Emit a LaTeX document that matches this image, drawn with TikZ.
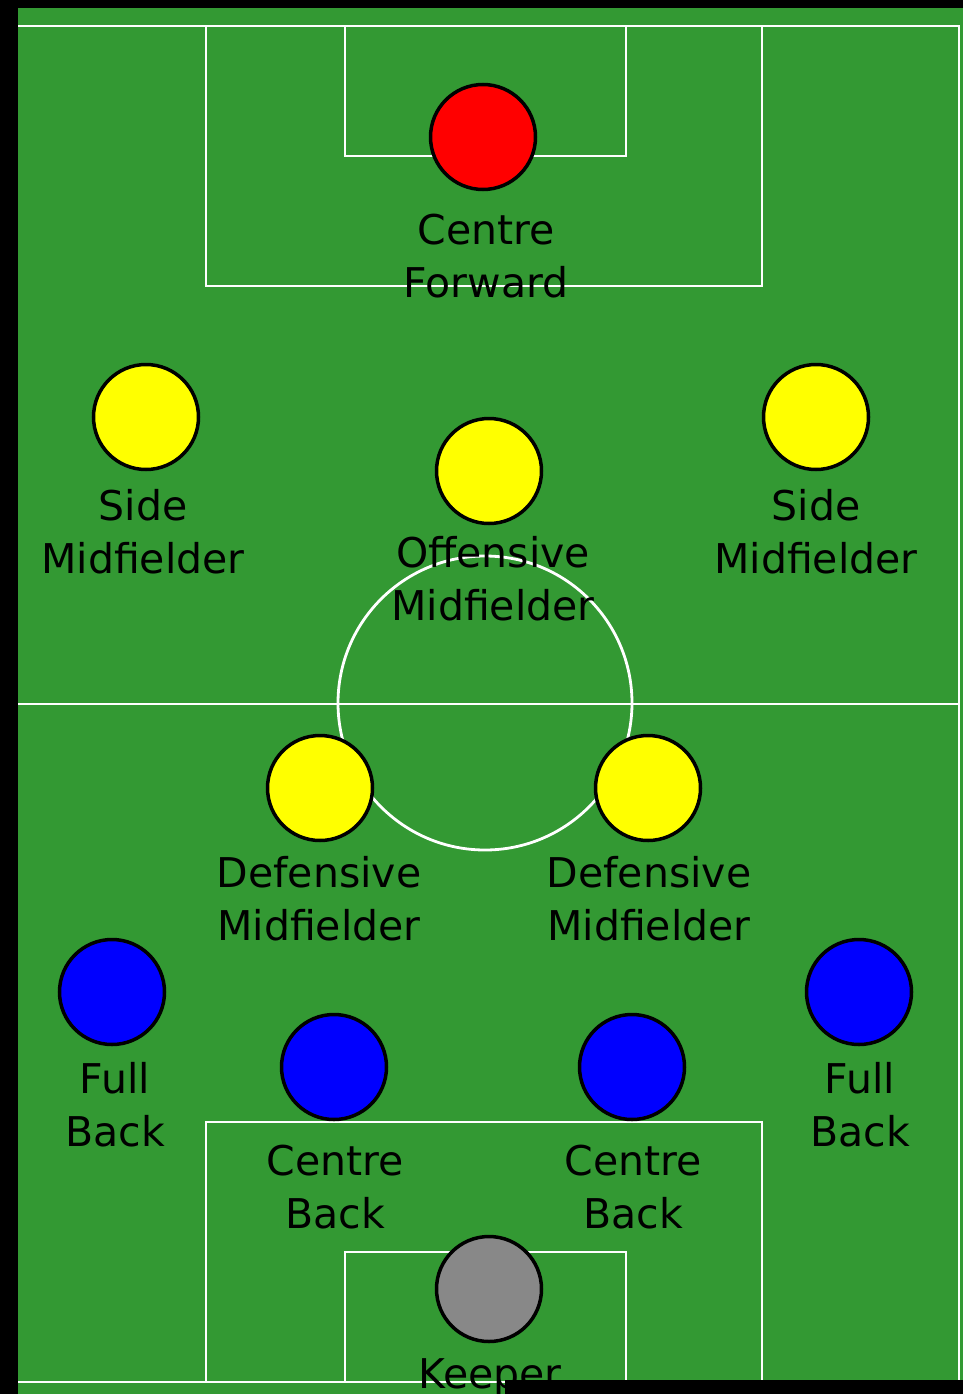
\documentclass[tikz,border=0pt]{standalone}
\usepackage{fontspec}
\setmainfont{DejaVu Sans}
\usetikzlibrary{positioning}

\definecolor{pitch}{RGB}{51,153,51}
\definecolor{keepergrey}{RGB}{136,136,136}
\definecolor{shirtyellow}{RGB}{255,255,0}

\begin{document}
\begin{tikzpicture}[
    x=1pt, y=-1pt,
    % Node styles
    player/.style={
        circle, draw=black, line width=3.5pt,
        minimum size=105pt, inner sep=0pt,
        fill=#1,
    },
    player/.default=shirtyellow,
    lbl/.style={
        anchor=base, align=center, inner sep=0pt,
        font=\fontsize{41}{53}\selectfont, text=black,
    },
    markings/.style={
        draw=white, line width=2.8pt,
    },
]

% === Pitch ===
\useasboundingbox (0,0) rectangle (963,1394);
\fill[black] (0,0) rectangle (963,1394);
\fill[pitch] (18,8) rectangle (963,1394);
\draw[markings] (18,26) -- (959,26) -- (959,1382) -- (18,1382);
\draw[markings] (18,704) -- (959,704);
\draw[markings] (485,703) circle[radius=147pt];

% === Boxes ===
\draw[markings] (206,26) |- (762,286) -- (762,26);
\draw[markings] (345,26) |- (626,156) -- (626,26);
\draw[markings] (206,1382) |- (762,1122) -- (762,1382);
\draw[markings] (345,1382) |- (626,1252) -- (626,1382);

% === Players ===
\node[player=red]        (cf)  at (483,137)  {};
\node[player]            (lsm) at (146,417)  {};
\node[player]            (rsm) at (816,417)  {};
\node[player]            (om)  at (489,471)  {};
\node[player]            (ldm) at (320,788)  {};
\node[player]            (rdm) at (648,788)  {};
\node[player=blue]       (lfb) at (112,992)  {};
\node[player=blue]       (rfb) at (859,992)  {};
\node[player=blue]       (lcb) at (334,1067) {};
\node[player=blue]       (rcb) at (632,1067) {};
\node[player=keepergrey] (gk)  at (489,1289) {};

% === Labels (base = last line) ===
\node[lbl] (cf-lbl)  at (486,297)  {Centre\\Forward};
\node[lbl] (lsm-lbl) at (143,573)  {Side\\Midfielder};
\node[lbl] (rsm-lbl) at (816,573)  {Side\\Midfielder};
\node[lbl] (om-lbl)  at (493,620)  {Offensive\\Midfielder};
\node[lbl] (ldm-lbl) at (319,940)  {Defensive\\Midfielder};
\node[lbl] (rdm-lbl) at (649,940)  {Defensive\\Midfielder};
\node[lbl] (lfb-lbl) at (115,1146) {Full\\Back};
\node[lbl] (rfb-lbl) at (860,1146) {Full\\Back};
\node[lbl] (lcb-lbl) at (335,1228) {Centre\\Back};
\node[lbl] (rcb-lbl) at (633,1228) {Centre\\Back};
\node[lbl] (gk-lbl)  at (490,1388) {Keeper};

% === Corner mask ===
\fill[black] (505,1380) rectangle (963,1394);

\end{tikzpicture}
\end{document}
